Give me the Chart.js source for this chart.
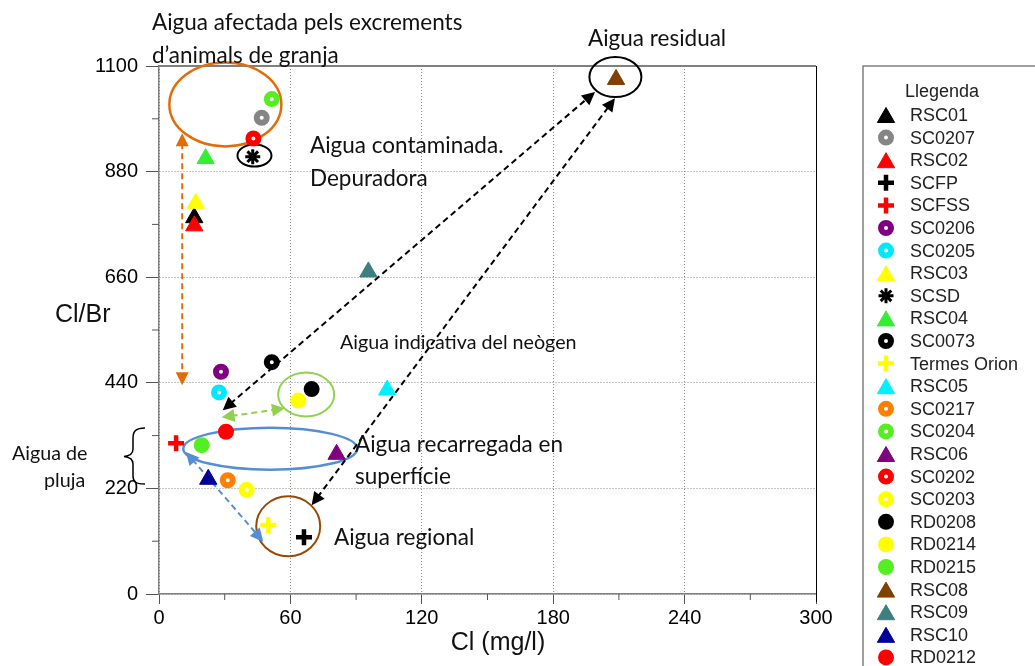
<!DOCTYPE html>
<html>
<head>
<meta charset="utf-8">
<script src="https://cdn.jsdelivr.net/npm/chart.js@4.4.1/dist/chart.umd.min.js"></script>
<style>
  html, body { margin: 0; padding: 0; background: #fff; overflow: hidden; }
  canvas { display: block; }
</style>
</head>
<body>
<canvas id="myChart" width="1035" height="666"></canvas>
<script>
const ctx = document.getElementById('myChart');

// samples, in legend order
const names = ['RSC01', 'SC0207', 'RSC02', 'SCFP', 'SCFSS', 'SC0206', 'SC0205', 'RSC03', 'SCSD',
  'RSC04', 'SC0073', 'Termes Orion', 'RSC05', 'SC0217', 'SC0204', 'RSC06', 'SC0202', 'SC0203',
  'RD0208', 'RD0214', 'RD0215', 'RSC08', 'RSC09', 'RSC10', 'RD0212'];
const cl = [16.1, 46.9, 16.1, 66.2, 7.8, 28.3, 27.4, 16.8, 42.8,
  21.3, 51.5, 49.9, 104.2, 31.4, 51.5, 81.1, 43.1, 40.0,
  69.7, 63.6, 19.5, 208.7, 95.6, 22.5, 30.6];
const clbr = [784, 992, 767, 118, 314, 463, 420, 814, 911,
  907, 483, 144, 425, 237, 1031, 291, 949, 217,
  427, 403, 310, 1072, 671, 239, 338];
const markers = ['tri', 'ring', 'tri', 'cross', 'cross', 'ring', 'ring', 'tri', 'star',
  'tri', 'ring', 'cross', 'tri', 'ring', 'ring', 'tri', 'ring', 'ring',
  'dot', 'dot', 'dot', 'tri', 'tri', 'tri', 'dot'];
const colors = ['#000000', '#858585', '#ff0000', '#000000', '#ff0000', '#800080', '#00e8ff', '#ffff00', '#000000',
  '#33ee33', '#000000', '#ffff00', '#00f0ff', '#ff8000', '#55ee22', '#800080', '#ff0000', '#ffff00',
  '#000000', '#ffff00', '#55ee22', '#804000', '#3d7f7f', '#000099', '#ff0000'];

const xTicks = [0, 60, 120, 180, 240, 300];
const yTicks = [0, 220, 440, 660, 880, 1100];

const tickFont = { family: '"Liberation Sans Narrow", "Liberation Sans", Arial, sans-serif', size: 20 };
const noteFont = 'Lato, "Open Sans", sans-serif';

function styleFor(kind, color) {
  if (kind == 'tri') return { pointStyle: 'triangle', radius: 10, borderWidth: 1, bg: color, border: color };
  if (kind == 'ring') return { pointStyle: 'circle', radius: 5, borderWidth: 6, bg: '#ffffff', border: color };
  if (kind == 'cross') return { pointStyle: 'cross', radius: 8, borderWidth: 4.5, bg: color, border: color };
  if (kind == 'star') return { pointStyle: 'star', radius: 7.5, borderWidth: 3, bg: color, border: color };
  return { pointStyle: 'circle', radius: 8, borderWidth: 0, bg: color, border: color };
}

const datasets = names.map((n, i) => {
  const s = styleFor(markers[i], colors[i]);
  return {
    label: n,
    data: [{ x: cl[i], y: clbr[i] }],
    pointStyle: s.pointStyle,
    pointRadius: s.radius,
    pointHoverRadius: s.radius,
    pointBorderWidth: s.borderWidth,
    pointBackgroundColor: s.bg,
    pointBorderColor: s.border,
    order: names.length - i
  };
});

// font size that makes `text` exactly `width` px wide
function sizeFor(c, text, width) {
  c.font = '20px ' + noteFont;
  return 20 * width / c.measureText(text).width;
}

function ellipse(c, cx, cy, rx, ry, color, w) {
  c.save();
  c.strokeStyle = color;
  c.lineWidth = w;
  c.beginPath();
  c.ellipse(cx, cy, rx, ry, 0, 0, Math.PI * 2);
  c.stroke();
  c.restore();
}

function head(c, x, y, ang) {
  const len = 13, hw = 6.5;
  c.beginPath();
  c.moveTo(x, y);
  c.lineTo(x - Math.cos(ang) * len - Math.sin(ang) * hw, y - Math.sin(ang) * len + Math.cos(ang) * hw);
  c.lineTo(x - Math.cos(ang) * len + Math.sin(ang) * hw, y - Math.sin(ang) * len - Math.cos(ang) * hw);
  c.closePath();
  c.fill();
}

function arrow(c, x1, y1, x2, y2, color) {
  const ang = Math.atan2(y2 - y1, x2 - x1);
  c.save();
  c.strokeStyle = color;
  c.fillStyle = color;
  c.lineWidth = 2;
  c.setLineDash([6, 4]);
  c.beginPath();
  c.moveTo(x1 + Math.cos(ang) * 10, y1 + Math.sin(ang) * 10);
  c.lineTo(x2 - Math.cos(ang) * 10, y2 - Math.sin(ang) * 10);
  c.stroke();
  c.setLineDash([]);
  head(c, x2, y2, ang);
  head(c, x1, y1, ang + Math.PI);
  c.restore();
}

const notes = {
  id: 'notes',
  beforeDatasetsDraw(chart) {
    const c = chart.ctx;
    const X = v => chart.scales.x.getPixelForValue(v);
    const Y = v => chart.scales.y.getPixelForValue(v);
    const a = chart.chartArea;

    // frame on top and right, minor ticks
    c.save();
    c.strokeStyle = '#808080';
    c.lineWidth = 2;
    c.beginPath();
    c.moveTo(a.left, a.top);
    c.lineTo(a.right, a.top);
    c.stroke();
    c.strokeStyle = '#000';
    c.lineWidth = 1;
    c.beginPath();
    c.moveTo(a.right + 0.5, a.top);
    c.lineTo(a.right + 0.5, a.bottom + 8);
    c.stroke();
    c.strokeStyle = '#555';
    c.beginPath();
    [30, 90, 150, 210, 270].forEach(v => { c.moveTo(X(v), a.bottom); c.lineTo(X(v), a.bottom + 6); });
    [110, 330, 550, 770, 990].forEach(v => { c.moveTo(a.left - 7, Y(v)); c.lineTo(a.left, Y(v)); });
    c.stroke();
    c.restore();

    ellipse(c, X(30.3), Y(1020), 56, 42, '#e36c0a', 2.5);
    ellipse(c, X(43.6), Y(913.5), 17, 11, '#000', 2);
    ellipse(c, X(208.4), Y(1077), 26, 20, '#000', 2);
    ellipse(c, X(67.2), Y(415.6), 28, 22, '#92d050', 2);
    ellipse(c, X(50.8), Y(302.7), 87, 21, '#558ed5', 2.5);
    ellipse(c, X(59), Y(141), 32, 30, '#984807', 2);

    arrow(c, X(10.6), Y(960), X(10.6), Y(435), '#e36c0a');
    arrow(c, X(28.6), Y(368), X(57.5), Y(387), '#92d050');
    arrow(c, X(12.3), Y(296), X(47.6), Y(109), '#558ed5');
    arrow(c, X(29.1), Y(383), X(199.1), Y(1046), '#000');
    arrow(c, X(69.7), Y(185), X(208.2), Y(1033), '#000');
  },
  afterDraw(chart) {
    const c = chart.ctx;
    c.save();
    c.fillStyle = '#111';
    c.textAlign = 'left';
    c.textBaseline = 'alphabetic';
    const big = sizeFor(c, 'Aigua afectada pels excrements', 310).toFixed(1) + 'px ' + noteFont;
    const small = sizeFor(c, 'Aigua indicativa del neògen', 237).toFixed(1) + 'px ' + noteFont;
    c.font = big;
    c.fillText('Aigua afectada pels excrements', 152, 30);
    c.fillText('d\u2019animals de granja', 152, 63);
    c.fillText('Aigua residual', 588, 46);
    c.fillText('Aigua contaminada.', 310, 153);
    c.fillText('Depuradora', 310, 186);
    c.fillText('Aigua recarregada en', 355, 452);
    c.fillText('superfície', 355, 484);
    c.fillText('Aigua regional', 334, 545);
    c.font = small;
    c.fillText('Aigua indicativa del neògen', 340, 349);
    c.fillText('Aigua de', 12, 460);
    c.fillText('pluja', 44, 487);

    // brace next to the rain water label
    c.strokeStyle = '#000';
    c.lineWidth = 1.5;
    c.beginPath();
    c.moveTo(145, 428);
    c.bezierCurveTo(136, 428, 133, 431, 133, 438);
    c.lineTo(133, 449);
    c.bezierCurveTo(133, 454, 129, 456, 124, 456.5);
    c.bezierCurveTo(129, 457, 133, 459, 133, 464);
    c.lineTo(133, 476);
    c.bezierCurveTo(133, 482, 136, 484, 145, 484);
    c.stroke();

    // axis titles
    c.font = '25px "Liberation Sans", Arial, sans-serif';
    c.fillText('Cl/Br', 55, 322);
    c.textAlign = 'center';
    c.fillText('Cl (mg/l)', 498, 650);

    // legend box
    c.textAlign = 'left';
    c.textBaseline = 'middle';
    c.strokeStyle = '#808080';
    c.lineWidth = 1.5;
    c.strokeRect(863, 66, 200, 640);
    c.font = '18px "Liberation Sans Narrow", "Liberation Sans", Arial, sans-serif';
    c.fillStyle = '#222';
    c.fillText('Llegenda', 905, 92);
    names.forEach((n, i) => {
      const y = 115 + i * 22.6;
      const s = styleFor(markers[i], colors[i]);
      c.fillStyle = s.bg;
      c.strokeStyle = s.border;
      c.lineWidth = s.borderWidth;
      Chart.helpers.drawPoint(c, { pointStyle: s.pointStyle, radius: s.radius, borderWidth: s.borderWidth, rotation: 0 },
        886, markers[i] == 'tri' ? y + 2.5 : y);
      c.fillStyle = '#222';
      c.font = '18px "Liberation Sans", Arial, sans-serif';
      c.fillText(n, 910, y + 1);
    });
    c.restore();
  }
};

new Chart(ctx, {
  type: 'scatter',
  data: { datasets: datasets },
  options: {
    responsive: false,
    animation: false,
    events: [],
    layout: { padding: { top: 66, right: 219, left: 0, bottom: 0 } },
    plugins: {
      legend: { display: false },
      tooltip: { enabled: false }
    },
    scales: {
      x: {
        type: 'linear',
        min: 0,
        max: 300,
        afterBuildTicks: s => { s.ticks = xTicks.map(v => ({ value: v })); },
        afterFit: s => { s.height = 72; },
        ticks: { color: '#000', font: tickFont, padding: 2, maxRotation: 0, callback: v => String(v) },
        grid: { color: '#8a8a8a', lineWidth: 1, tickColor: '#555', tickLength: 10 },
        border: { color: '#808080', width: 1.5, dash: [1, 2] }
      },
      y: {
        type: 'linear',
        min: 0,
        max: 1100,
        afterBuildTicks: s => { s.ticks = yTicks.map(v => ({ value: v })); },
        afterFit: s => { s.width = 159; },
        ticks: { color: '#000', font: tickFont, padding: 8, callback: v => String(v) },
        grid: { color: '#8a8a8a', lineWidth: 1, tickColor: '#555', tickLength: 13 },
        border: { color: '#808080', width: 1.5, dash: [1, 2] }
      }
    }
  },
  plugins: [notes]
});
</script>
</body>
</html>
